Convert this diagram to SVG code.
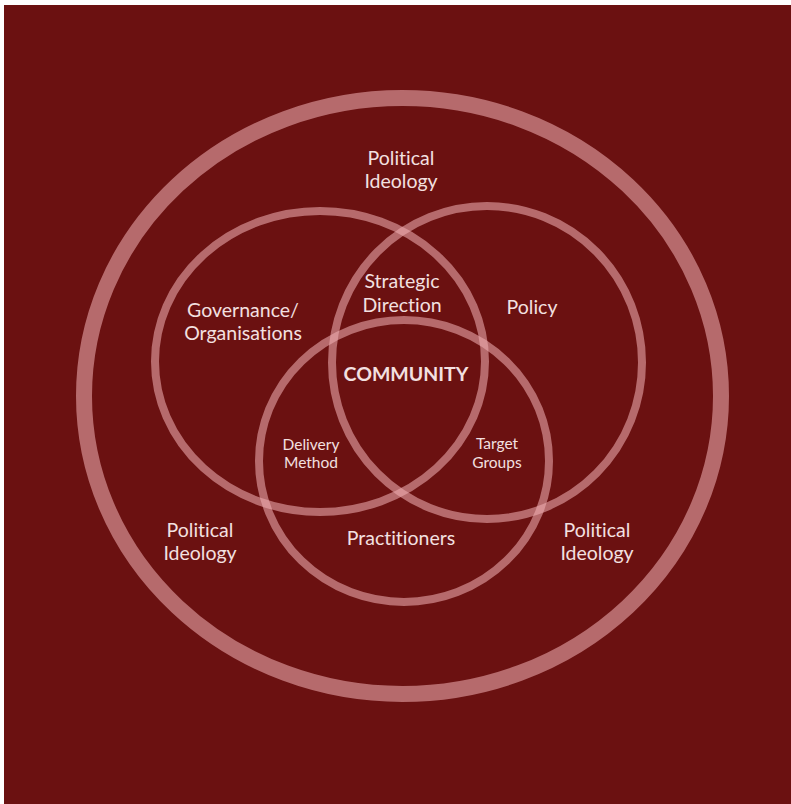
<svg xmlns="http://www.w3.org/2000/svg" width="791" height="804" viewBox="0 0 791 804">
<style>
.ring{fill:none;stroke:#F0B0B4;stroke-opacity:0.56}
.t{font-family:Lato,"Open Sans","Liberation Sans",sans-serif;fill:#F3E0E0;text-anchor:middle;font-variant-ligatures:none;font-feature-settings:"liga" 0,"dlig" 0}
.l{font-size:19.5px}
.s{font-size:15.5px}
.b{font-size:19.5px;font-weight:bold}
</style>
<rect x="0" y="0" width="791" height="804" fill="#FFFFFF"/>
<rect x="4" y="5" width="787" height="799" fill="#6B1111"/>
<g id="outer">
<ellipse class="ring" cx="402.5" cy="396" rx="318.5" ry="298" stroke-width="16"/>
</g>
<g id="governance">
<ellipse class="ring" cx="320" cy="361.5" rx="165" ry="150.5" stroke-width="8"/>
</g>
<g id="policy">
<ellipse class="ring" cx="487" cy="362.5" rx="155" ry="156.5" stroke-width="8"/>
</g>
<g id="practitioners">
<ellipse class="ring" cx="404" cy="461" rx="145" ry="141" stroke-width="8"/>
</g>
<g id="labels">
<text class="t l" x="401" y="165">Political</text>
<text class="t l" x="401" y="188">Ideology</text>
<text class="t l" x="402" y="288">Strategic</text>
<text class="t l" x="402" y="312">Direction</text>
<text class="t l" x="243" y="317">Governance/</text>
<text class="t l" x="243" y="340">Organisations</text>
<text class="t l" x="532" y="314">Policy</text>
<text class="t b" x="406" y="381">COMMUNITY</text>
<text class="t s" x="311" y="450">Delivery</text>
<text class="t s" x="311" y="468">Method</text>
<text class="t s" x="497" y="449">Target</text>
<text class="t s" x="497" y="468">Groups</text>
<text class="t l" x="401" y="545">Practitioners</text>
<text class="t l" x="200" y="537">Political</text>
<text class="t l" x="200" y="560">Ideology</text>
<text class="t l" x="597" y="537">Political</text>
<text class="t l" x="597" y="560">Ideology</text>
</g>
<g id="connectors"/>
</svg>
